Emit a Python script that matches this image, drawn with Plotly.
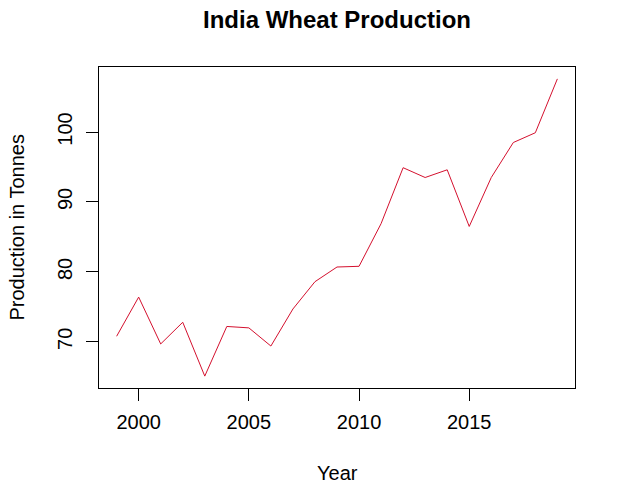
import plotly.graph_objects as go

years = list(range(1999, 2020))
production = [70.8, 76.4, 69.7, 72.8, 65.1, 72.2, 72.0, 69.4, 74.7, 78.6, 80.7,
              80.8, 86.9, 94.9, 93.5, 94.6, 86.5, 93.5, 98.5, 99.9, 107.6]

x_ticks = [2000, 2005, 2010, 2015]
y_ticks = [70, 80, 90, 100]

font = "Liberation Sans, Arial, sans-serif"

fig = go.Figure()
fig.add_trace(go.Scatter(x=years, y=production, mode="lines",
                         line=dict(color="#d4102e", width=1), showlegend=False))

# page body adds ~7px offset, so margins are shifted to compensate
fig.update_layout(
    width=626, height=490,
    paper_bgcolor="white", plot_bgcolor="white",
    margin=dict(l=91, r=59, t=59, b=110),
    font=dict(family=font, size=20, color="black"),
    title=dict(text="<b>India Wheat Production</b>", x=329 / 626, xanchor="center",
               y=1 - 11.5 / 490, yanchor="middle", font=dict(size=24)),
)

# R-style 4% padding around the data range
xr = (min(years), max(years))
yr = (min(production), max(production))
xpad = (xr[1] - xr[0]) * 0.04
ypad = (yr[1] - yr[0]) * 0.04

axis_style = dict(showline=True, linecolor="black", linewidth=1, mirror=True,
                  showgrid=False, zeroline=False, ticks="outside", ticklen=12,
                  tickwidth=1, tickcolor="black")
fig.update_xaxes(range=[xr[0] - xpad, xr[1] + xpad], tickvals=x_ticks,
                 ticklabelstandoff=4, **axis_style)
fig.update_yaxes(range=[yr[0] - ypad, yr[1] + ypad], tickvals=y_ticks,
                 tickangle=-90, ticklabelstandoff=6, **axis_style)

fig.add_annotation(text="Year", x=0.5, y=0, xref="paper", yref="paper",
                   yanchor="middle", yshift=-85, showarrow=False)
fig.add_annotation(text="Production in Tonnes", x=0, y=0.5, xref="paper", yref="paper",
                   xanchor="center", xshift=-83, textangle=-90, showarrow=False)

fig.write_html("out.html")
